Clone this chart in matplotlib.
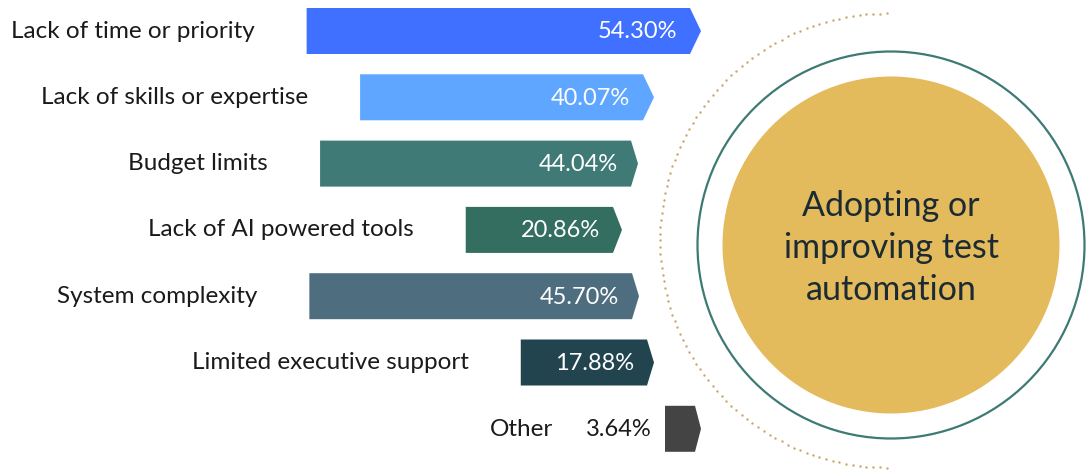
import numpy as np
import matplotlib.pyplot as plt
from matplotlib.patches import Polygon, Circle

# ------------------------------------------------------------------ #
#  Données                                                            #
# ------------------------------------------------------------------ #
categories = ["Lack of time or priority", "Lack of skills or expertise",
              "Budget limits", "Lack of AI powered tools",
              "System complexity", "Limited executive support", "Other"]
valeurs = [54.30, 40.07, 44.04, 20.86, 45.70, 17.88, 3.64]
couleurs = ["#4070ff", "#5ea6ff", "#3f7a76", "#346e60",
            "#4e6e80", "#22444f", "#444444"]
titre_centre = "Adopting or\nimproving test\nautomation"

# mise en page (pixels)
W, H = 1087, 473
PX_PAR_PCT = 7.06
POINTES = [701, 654, 638, 622, 639, 654, 701]   # bout de flèche, le long de l'arc
TIPS = [11, 11, 7, 9, 7, 7, 6]
Y0, PAS, HAUT = 31, 66.3, 46
CX, CY = 891, 245

plt.rcParams['font.family'] = ['Lato', 'DejaVu Sans']

fig = plt.figure(figsize=(W / 100, H / 100), dpi=100)
ax = fig.add_axes([0, 0, 1, 1])
ax.set_xlim(0, W)
ax.set_ylim(H, 0)
ax.axis('off')

# ── Barres-flèches ─────────────────────────────────────────────
for i, (cat, val, col) in enumerate(zip(categories, valeurs, couleurs)):
    yc = Y0 + i * PAS
    fin = POINTES[i] - TIPS[i]
    longueur = max(val * PX_PAR_PCT, 30)
    debut = fin - longueur
    pts = [(debut, yc - HAUT / 2), (fin, yc - HAUT / 2), (POINTES[i], yc),
           (fin, yc + HAUT / 2), (debut, yc + HAUT / 2)]
    ax.add_patch(Polygon(pts, closed=True, facecolor=col, edgecolor='none'))
    if cat == "Other":
        ax.text(debut - 13, yc + 1, f"{val:.2f}%", ha='right', va='center',
                fontsize=17, color='#1a1a1a')
        ax.text(debut - 112, yc + 1, cat, ha='right', va='center',
                fontsize=17.5, color='#1a1a1a')
    else:
        ax.text(fin - 13, yc + 1, f"{val:.2f}%", ha='right', va='center',
                fontsize=17, color='white')
        ax.text(debut - 52, yc, cat, ha='right', va='center',
                fontsize=17.5, color='#1a1a1a')

# ── Arc pointillé ──────────────────────────────────────────────
theta = np.linspace(np.pi / 2, 3 * np.pi / 2, 105)
ax.scatter(887 + 227 * np.cos(theta), 240.5 - 227 * np.sin(theta),
           s=3, color='#c8a86a', linewidths=0)

# ── Cercles ────────────────────────────────────────────────────
ax.add_patch(Circle((CX, CY), 193.5, facecolor='none', edgecolor='#3d7a74', lw=1.6))
ax.add_patch(Circle((CX, CY), 168.5, facecolor='#e3bb5c', edgecolor='none'))
ax.text(CX, CY + 3, titre_centre, ha='center', va='center', fontsize=24.5,
        color='#1c2b33', linespacing=1.38)

fig.savefig("out.png", dpi=100)
